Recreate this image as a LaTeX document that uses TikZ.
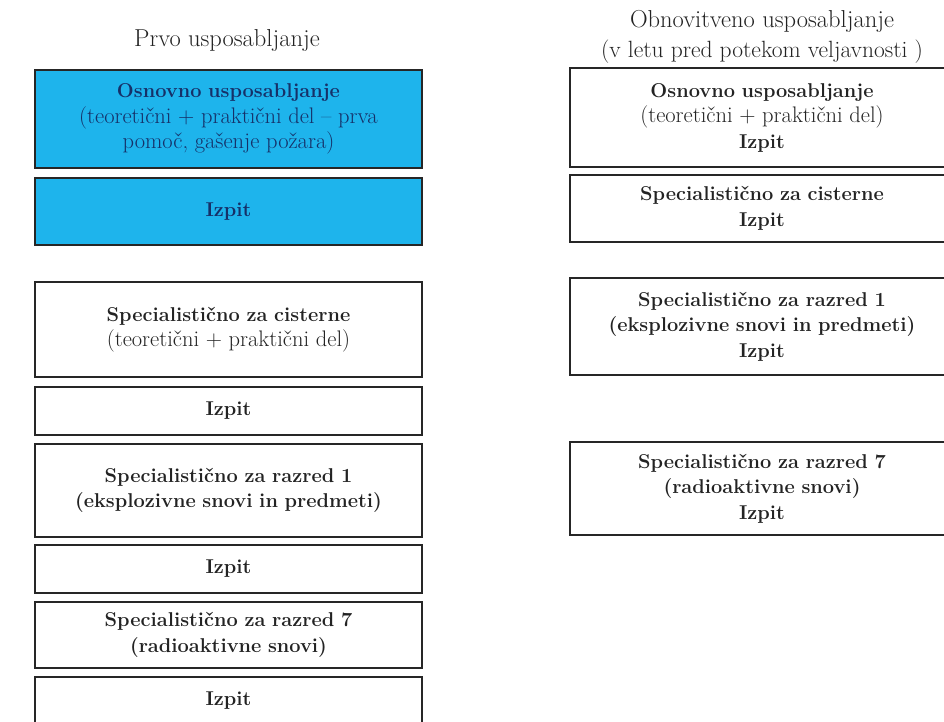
\documentclass[tikz,border=0pt]{standalone}
\usepackage{fontspec}
\definecolor{boxblue}{RGB}{30,180,236}
\definecolor{navy}{RGB}{22,48,104}
\definecolor{ink}{RGB}{35,35,35}
\newcommand{\rgtext}[1]{{\fontsize{22.5}{25.5}\selectfont\mdseries #1}}
\tikzset{
  stage/.style={draw=black!85, line width=1.3pt, align=center, inner sep=0pt,
    minimum width=387pt, text width=380pt, text=ink,
    font=\fontsize{20}{25.5}\selectfont\bfseries},
  rstage/.style={stage, minimum width=384pt},
  bluestage/.style={stage, fill=boxblue, text=navy},
  heading/.style={align=center, inner sep=0pt, text=ink,
    font=\fontsize{24.5}{30}\selectfont}
}
\begin{document}
\begin{tikzpicture}[x=1pt,y=-1pt]
\useasboundingbox (0,0) rectangle (944,722);
\clip (0,0) rectangle (944,722);
% headings
\node[heading] (t1) at (227,40) {Prvo usposabljanje};
\node[heading] (t2) at (762,37) {Obnovitveno usposabljanje\\{\fontsize{23.5}{30}\selectfont(v letu pred potekom veljavnosti )}};
% left column
\node[bluestage, minimum height=98pt] (l1) at (228.5,119)
  {Osnovno usposabljanje\\\rgtext{(teoretični + praktični del -- prva}\\\rgtext{pomoč, gašenje požara)}};
\node[bluestage, minimum height=67pt] (l2) at (228.5,211.5) {Izpit};
\node[stage, minimum height=95pt] (l3) at (228.5,329.5)
  {Specialistično za cisterne\\\rgtext{(teoretični + praktični del)}};
\node[stage, minimum height=48pt] (l4) at (228.5,411) {Izpit};
\node[stage, minimum height=93pt] (l5) at (228.5,490.5)
  {Specialistično za razred 1\\(eksplozivne snovi in predmeti)};
\node[stage, minimum height=48pt] (l6) at (228.5,569) {Izpit};
\node[stage, minimum height=66pt] (l7) at (228.5,635)
  {Specialistično za razred 7\\(radioaktivne snovi)};
\node[stage, minimum height=48pt] (l8) at (228.5,701) {Izpit};
% right column
\node[rstage, minimum height=99pt] (r1) at (762,117.5)
  {Osnovno usposabljanje\\\rgtext{(teoretični + praktični del)}\\Izpit};
\node[rstage, minimum height=67pt] (r2) at (762,208.5)
  {Specialistično za cisterne\\Izpit};
\node[rstage, minimum height=97pt] (r3) at (762,326.5)
  {Specialistično za razred 1\\(eksplozivne snovi in predmeti)\\Izpit};
\node[rstage, minimum height=93pt] (r4) at (762,488.5)
  {Specialistično za razred 7\\(radioaktivne snovi)\\Izpit};
\end{tikzpicture}
\end{document}
